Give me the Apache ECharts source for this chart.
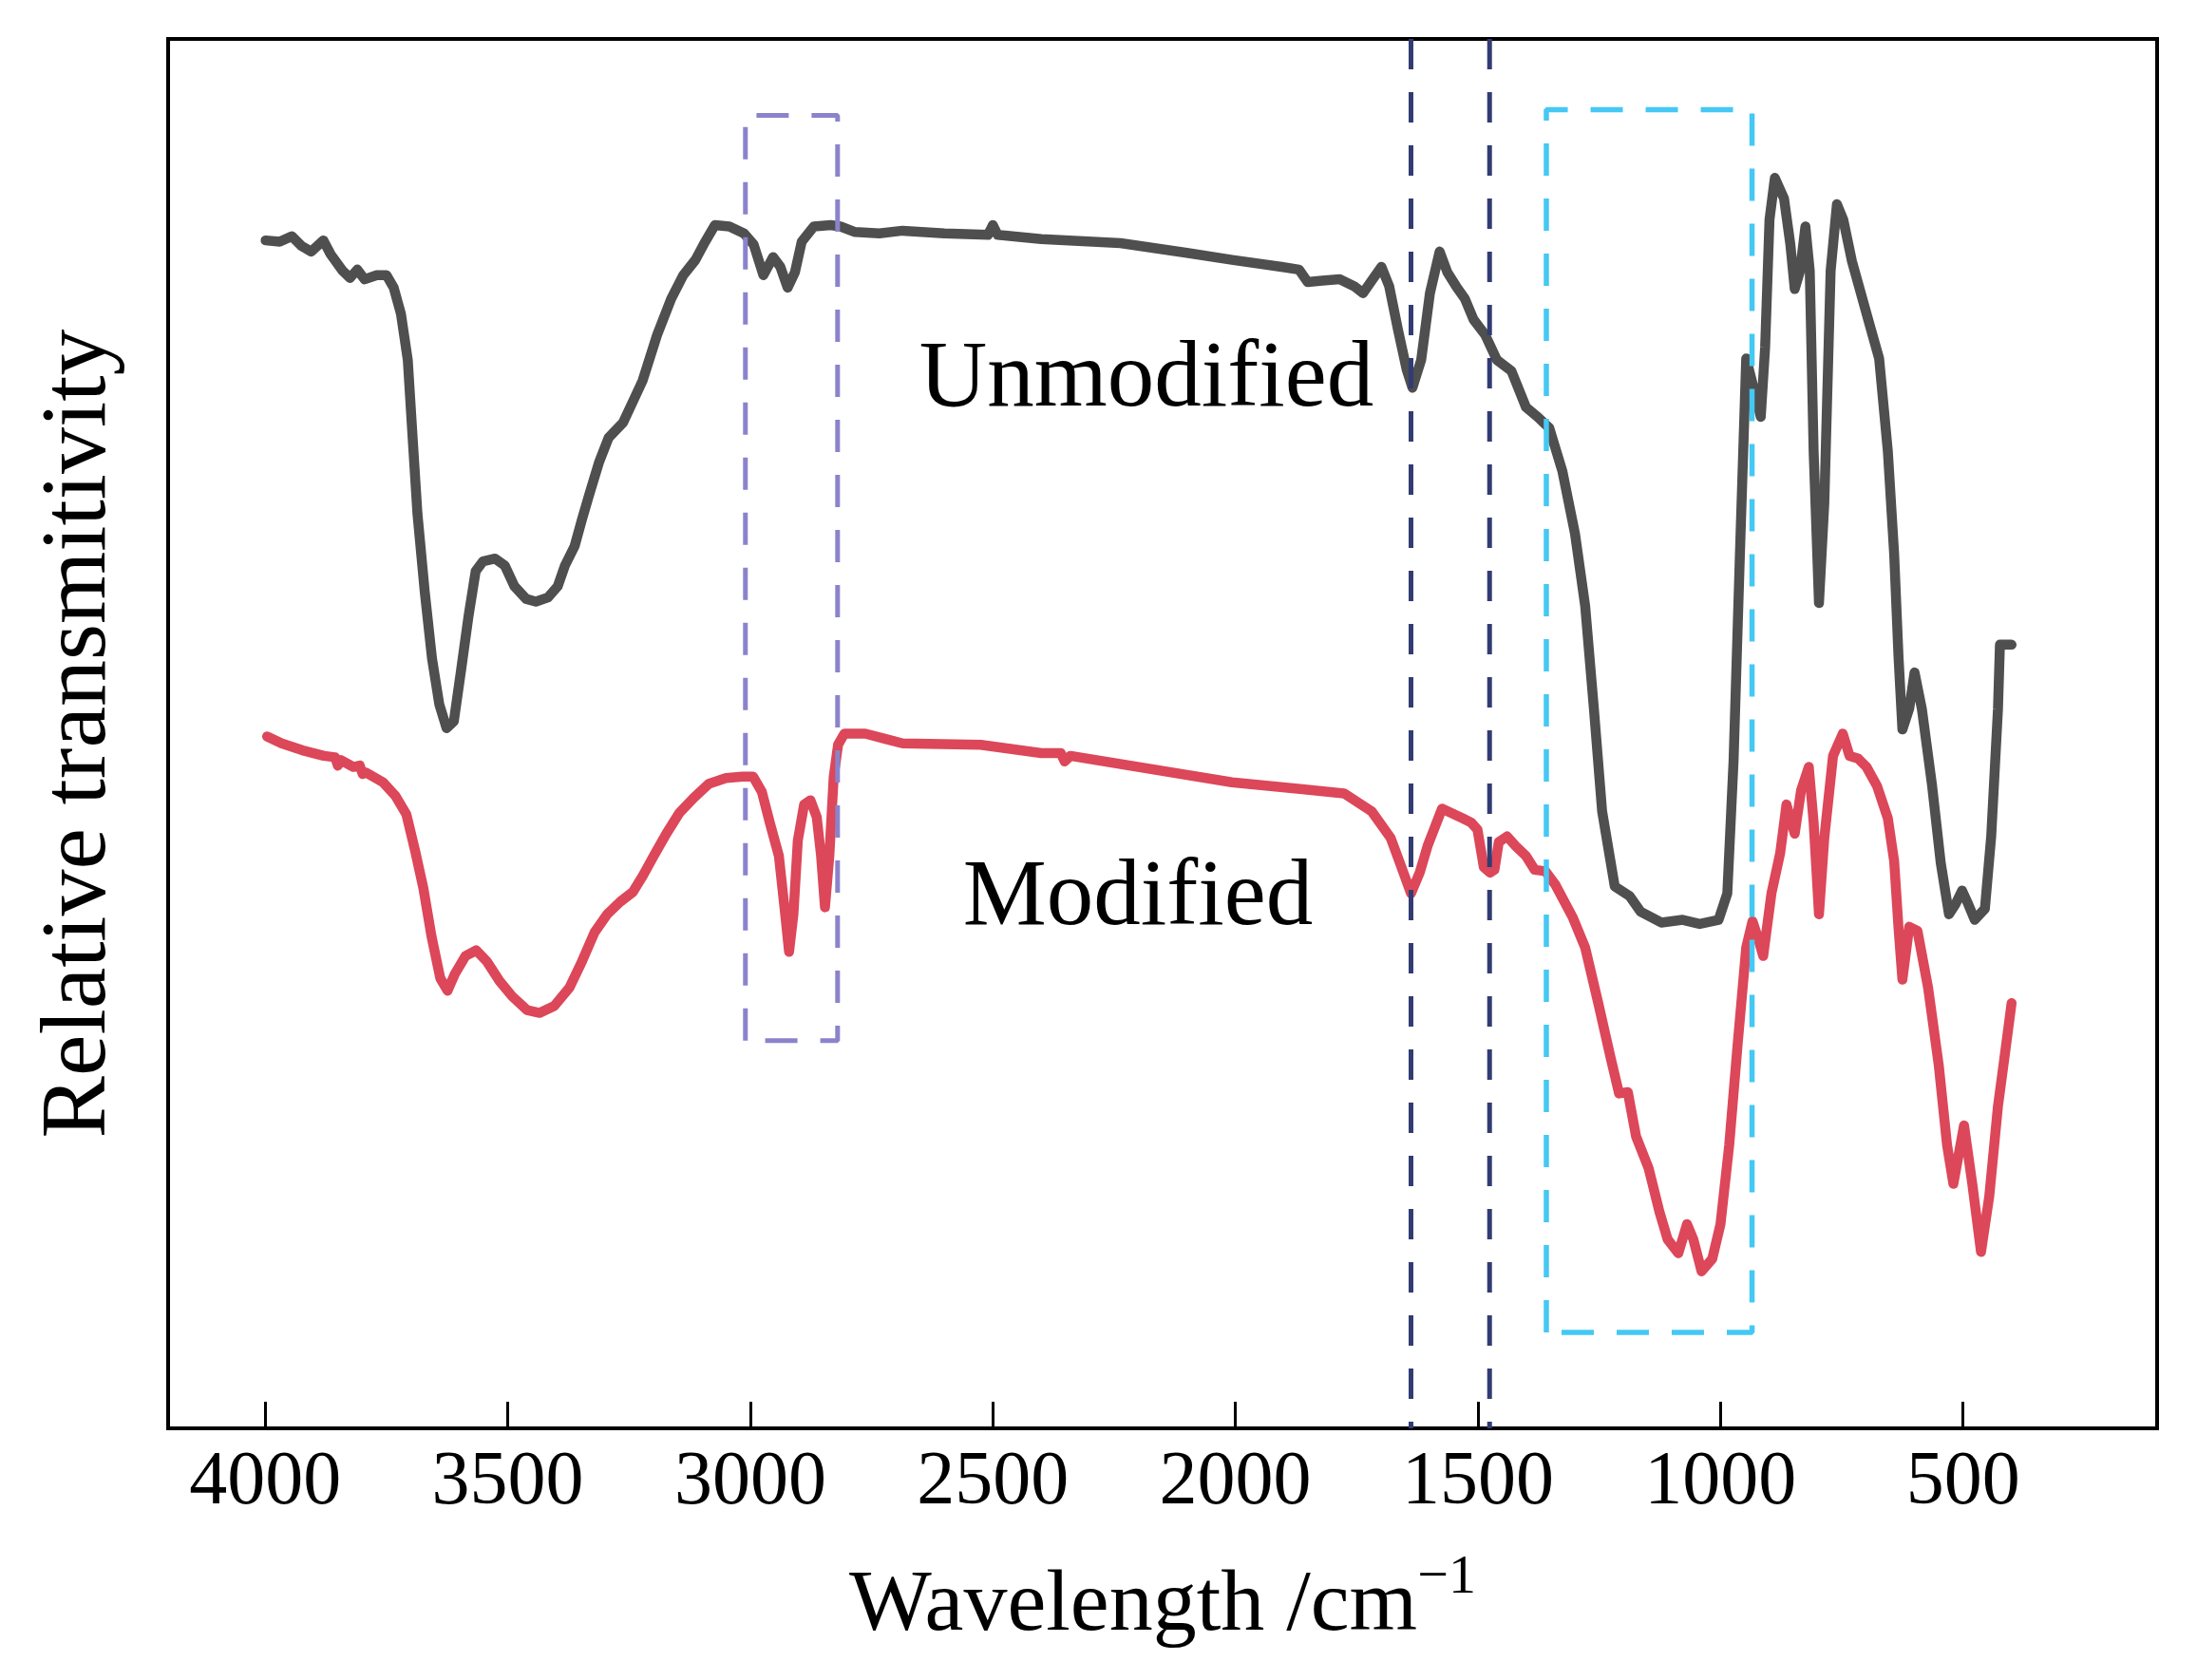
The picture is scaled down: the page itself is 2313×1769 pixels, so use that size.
<!DOCTYPE html>
<html>
<head>
<meta charset="utf-8">
<title>FTIR spectra</title>
<script src="https://cdn.jsdelivr.net/npm/echarts@6/dist/echarts.min.js"></script>
<style>
    html, body { margin: 0; padding: 0; background: #fff; }
    #chart { width: 2313px; height: 1769px; }
</style>
</head>
<body>
<div id="chart"></div>
<script>
// tick positions on the wavenumber axis
var xTicks = [4000, 3500, 3000, 2500, 2000, 1500, 1000, 500];

// unmodified sample (grey curve)
var unmodWave = [3999, 3970, 3945, 3925, 3905, 3880, 3865, 3840, 3825, 3810, 3795, 3770, 3750, 3735, 3720, 3706,
    3696, 3686, 3671, 3656, 3641, 3626, 3611, 3596, 3581, 3566, 3551, 3526, 3506, 3486, 3462, 3442, 3417, 3397,
    3382, 3362, 3347, 3332, 3312, 3292, 3262, 3242, 3222, 3192, 3163, 3138, 3113, 3093, 3073, 3043, 3013, 2993,
    2973, 2953, 2938, 2923, 2908, 2894, 2869, 2834, 2814, 2784, 2734, 2686, 2600, 2510, 2500, 2490, 2400, 2237,
    2100, 2007, 1905, 1869, 1851, 1821, 1785, 1755, 1737, 1719, 1699, 1683, 1665, 1647, 1635, 1617, 1599, 1579,
    1563, 1545, 1527, 1509, 1485, 1461, 1431, 1401, 1377, 1353, 1326, 1300, 1279, 1261, 1244, 1218, 1187, 1165,
    1122, 1078, 1043, 1004, 986, 973, 960, 947, 934, 917, 908, 899, 888, 869, 856, 847, 836, 825, 816, 808, 797,
    786, 773, 760, 747, 729, 694, 673, 655, 642, 633, 625, 611, 600, 585, 564, 546, 529, 516, 502, 489, 476, 455,
    442, 428, 424, 400];
var unmodT = [85.5, 85.4, 85.8, 85.1, 84.7, 85.5, 84.5, 83.3, 82.8, 83.4, 82.7, 83.0, 83.0, 82.1, 80.2, 76.9,
    71.3, 65.8, 60.2, 55.4, 52.1, 50.4, 50.9, 54.6, 58.4, 61.7, 62.4, 62.6, 62.1, 60.6, 59.7, 59.5, 59.8, 60.6,
    62.1, 63.5, 65.4, 67.2, 69.5, 71.3, 72.4, 73.9, 75.4, 78.7, 81.3, 83.0, 84.1, 85.4, 86.6, 86.5, 86.0, 85.2,
    83.0, 84.3, 83.6, 82.1, 83.2, 85.4, 86.5, 86.6, 86.5, 86.1, 86.0, 86.2, 86.0, 85.9, 86.6, 85.9, 85.6, 85.3,
    84.6, 84.1, 83.6, 83.4, 82.5, 82.6, 82.7, 82.2, 81.7, 82.6, 83.6, 82.2, 79.1, 76.2, 74.9, 76.9, 81.7, 84.7,
    83.2, 82.2, 81.3, 79.8, 78.7, 76.9, 76.1, 73.5, 72.8, 72.0, 68.9, 64.4, 59.2, 51.8, 44.4, 39.0, 38.3, 37.2,
    36.4, 36.6, 36.3, 36.6, 38.5, 48.1, 62.9, 77.0, 75.2, 72.8, 77.8, 87.0, 90.0, 88.5, 85.2, 82.0, 83.3, 86.5, 83.3, 70.3, 59.4,
    66.6, 83.3, 88.1, 87.0, 84.0, 79.6, 77.0, 70.3, 62.9, 55.5, 50.3, 51.8, 54.4, 51.8, 46.3, 40.7, 37.0, 37.7, 38.7, 37.7, 36.6, 37.4,
    42.6, 51.8, 56.4, 56.4];

// modified sample (red curve)
var modWave = [3996, 3966, 3923, 3879, 3856, 3850, 3844, 3818, 3805, 3799, 3792, 3757, 3731, 3709, 3691, 3674, 3657, 3639, 3624, 3609,
    3587, 3565, 3543, 3517, 3491, 3460, 3434, 3404, 3373, 3347, 3321, 3295, 3268, 3242, 3221, 3199, 3173, 3146,
    3116, 3085, 3050, 3016, 2994, 2976, 2959, 2941, 2928, 2920, 2911, 2902, 2889, 2876, 2863, 2854, 2846, 2837,
    2828, 2819, 2806, 2763, 2719, 2686, 2525, 2400, 2360, 2352, 2340, 2007, 1862, 1776, 1719, 1680, 1661, 1638,
    1620, 1603, 1574, 1531, 1514, 1501, 1488, 1475, 1466, 1457, 1440, 1422, 1401, 1383, 1361, 1340, 1305, 1279,
    1252, 1226, 1209, 1191, 1174, 1148, 1126, 1109, 1087, 1069, 1056, 1039, 1017, 1000, 982, 965, 947, 934, 921,
    912, 895, 877, 864, 847, 834, 818, 808, 797, 786, 768, 748, 734, 716, 699, 677, 655, 642, 633, 625, 611, 594,
    572, 550, 533, 520, 498, 481, 463, 446, 428, 415, 400];
var modT = [49.8, 49.3, 48.8, 48.4, 48.3, 47.7, 48.1, 47.6, 47.7, 47.1, 47.2, 46.5, 45.5, 44.2, 41.6, 38.9, 35.4, 32.4, 31.5, 32.7,
    34.0, 34.4, 33.6, 32.2, 31.1, 30.1, 29.9, 30.4, 31.7, 33.6, 35.7, 37.0, 37.9, 38.6, 39.8, 41.2, 42.8, 44.3,
    45.4, 46.4, 46.8, 46.9, 46.9, 45.8, 43.5, 41.2, 37.0, 34.3, 37.0, 42.3, 44.9, 45.2, 44.0, 41.2, 37.5, 41.2,
    46.9, 49.2, 50.0, 50.0, 49.6, 49.3, 49.2, 48.6, 48.6, 48.0, 48.4, 46.5, 46.0, 45.7, 44.4, 42.5, 40.7, 38.5,
    40.0, 42.0, 44.6, 43.9, 43.6, 43.1, 40.4, 40.0, 40.2, 42.2, 42.6, 41.9, 41.2, 40.2, 40.1, 39.1, 36.8, 34.6,
    30.6, 26.6, 24.1, 24.2, 21.0, 18.7, 15.6, 13.6, 12.6, 14.7, 13.6, 11.3, 12.2, 14.7, 20.4, 27.5, 34.6, 36.5, 35.1,
    34.0, 38.5, 41.4, 44.9, 42.8, 45.9, 47.6, 43.6, 37.0, 42.5, 48.4, 50.0, 48.4, 48.2, 47.6, 46.2, 43.9, 40.8, 36.0, 32.3, 36.1, 35.8,
    31.7, 26.1, 20.4, 17.6, 21.8, 17.6, 12.7, 16.7, 23.2, 26.6, 30.6];

// dashed guides: two rectangles and two vertical lines
var purpleBoxX = [3010, 3010, 2820, 2820, 3010];
var purpleBoxY = [27.9, 94.5, 94.5, 27.9, 27.9];
var cyanBoxX = [1359, 1359, 935, 935, 1359];
var cyanBoxY = [6.9, 94.9, 94.9, 6.9, 6.9];
var bandLines = [1638, 1476];

var font = '"Liberation Serif", "Times New Roman", serif';

function pairs(xs, ys) {
    return xs.map(function (x, i) { return [x, ys[i]]; });
}

var chart = echarts.init(document.getElementById('chart'));

var series = [
    {
        name: 'Unmodified',
        type: 'line',
        data: pairs(unmodWave, unmodT),
        showSymbol: false,
        lineStyle: { color: '#4f4f4f', width: 10.5, join: 'round', cap: 'round' },
        z: 3
    },
    {
        name: 'Modified',
        type: 'line',
        data: pairs(modWave, modT),
        showSymbol: false,
        lineStyle: { color: '#dc4759', width: 10.5, join: 'round', cap: 'round' },
        z: 3
    },
    {
        type: 'line',
        data: pairs(purpleBoxX, purpleBoxY),
        showSymbol: false,
        lineStyle: { color: '#8a83cc', width: 5, type: [34, 24] },
        z: 4
    },
    {
        type: 'line',
        data: pairs(cyanBoxX, cyanBoxY),
        showSymbol: false,
        lineStyle: { color: '#45c8f3', width: 5.5, type: [34, 24] },
        z: 4
    }
];
bandLines.forEach(function (w) {
    series.push({
        type: 'line',
        data: [[w, 100], [w, 0]],
        showSymbol: false,
        lineStyle: { color: '#323c72', width: 5, type: [32, 24] },
        z: 4
    });
});

var option = {
    animation: false,
    backgroundColor: '#fff',
    grid: {
        left: 177,
        right: 42,
        top: 41,
        bottom: 265,
        show: true,
        borderColor: '#000',
        borderWidth: 4,
        backgroundColor: 'transparent'
    },
    xAxis: {
        type: 'value',
        inverse: true,
        min: 100,
        max: 4200,
        axisLine: { show: false, onZero: false },
        splitLine: { show: false },
        axisTick: {
            show: true,
            inside: true,
            length: 28,
            customValues: xTicks,
            lineStyle: { color: '#000', width: 3 }
        },
        axisLabel: {
            customValues: xTicks,
            formatter: function (v) { return String(v); },
            fontSize: 80,
            fontFamily: font,
            color: '#000',
            margin: 18
        },
        name: '{a|Wavelength /cm}{s|\u22121}',
        nameLocation: 'middle',
        nameGap: 129,
        nameTextStyle: {
            fontFamily: font,
            color: '#000',
            rich: {
                a: { fontSize: 92, fontFamily: font, color: '#000' },
                s: { fontSize: 58, fontFamily: font, color: '#000', padding: [0, 0, 60, 0] }
            }
        }
    },
    yAxis: {
        type: 'value',
        min: 0,
        max: 100,
        axisLine: { show: false },
        axisTick: { show: false },
        axisLabel: { show: false },
        splitLine: { show: false },
        name: 'Relative transmitivity',
        nameLocation: 'middle',
        nameGap: 44,
        nameTextStyle: { fontSize: 98, fontFamily: font, color: '#000' }
    },
    graphic: [
        {
            type: 'text',
            x: 1207,
            y: 401,
            style: { text: 'Unmodified', fontSize: 99, fontFamily: font, fill: '#000', textAlign: 'center', textVerticalAlign: 'middle' }
        },
        {
            type: 'text',
            x: 1198,
            y: 947,
            style: { text: 'Modified', fontSize: 99, fontFamily: font, fill: '#000', textAlign: 'center', textVerticalAlign: 'middle' }
        }
    ],
    series: series
};

chart.setOption(option);
</script>
</body>
</html>
